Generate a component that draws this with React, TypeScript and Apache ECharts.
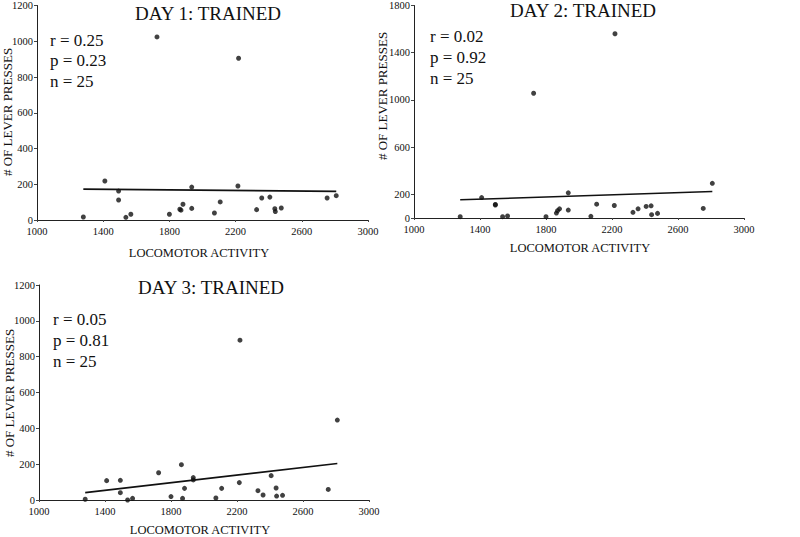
import React, { useEffect, useRef } from "react";
import * as echarts from "echarts";

const activity = [1280, 1410, 1493, 1493, 1537, 1567, 1725, 1800, 1863, 1870, 1882, 1935, 1935, 2072, 2107, 2214, 2218, 2327, 2358, 2407, 2437, 2440, 2476, 2753, 2808];
const day1Presses = [17, 218, 162, 112, 15, 32, 1024, 32, 60, 55, 88, 184, 65, 39, 101, 190, 905, 58, 123, 128, 63, 47, 67, 123, 136];
const day2Presses = [11, 173, 115, 110, 11, 17, 1057, 11, 42, 62, 78, 213, 67, 14, 117, 106, 1561, 48, 78, 98, 103, 28, 39, 81, 294];
const day3Presses = [4, 108, 110, 41, 0, 9, 152, 19, 197, 9, 65, 125, 112, 11, 65, 97, 892, 52, 28, 136, 67, 22, 26, 59, 446];

const fitX = [1280, 2808];
const day1Fit = [173, 160];
const day2Fit = [154, 224];
const day3Fit = [41, 204];

const titles = ["DAY 1: TRAINED", "DAY 2: TRAINED", "DAY 3: TRAINED"];
const stats = [
  ["r = 0.25", "p = 0.23", "n = 25"],
  ["r = 0.02", "p = 0.92", "n = 25"],
  ["r = 0.05", "p = 0.81", "n = 25"],
];
const xTicks = [1000, 1400, 1800, 2200, 2600, 3000];
const yTicks13 = [0, 200, 400, 600, 800, 1000, 1200];
const yTicks2 = [0, 200, 600, 1000, 1400, 1800];
const xName = "LOCOMOTOR ACTIVITY";
const yName = "# OF LEVER PRESSES";

const FONT = "'Liberation Serif', 'DejaVu Serif', serif";

export default function App() {
  const ref = useRef<HTMLDivElement>(null);
  useEffect(() => {
    if (!ref.current) return;
    const chart = echarts.init(ref.current, null, { renderer: "svg" });
    const grids = [
      { left: 37, top: 5, width: 331, height: 215 },
      { left: 414, top: 3, width: 330, height: 215 },
      { left: 39, top: 285, width: 330, height: 215 },
    ];
    const yMax = [1200, 1800, 1200];
    const yTickSets = [yTicks13, yTicks2, yTicks13];
    const pressSets = [day1Presses, day2Presses, day3Presses];
    const fits = [day1Fit, day2Fit, day3Fit];
    const axisLine = { show: true, lineStyle: { color: "#222", width: 1 } };
    const labelStyle = {
      fontFamily: FONT,
      fontSize: 10.5,
      color: "#111",
      formatter: (v: number) => String(v),
    };

    const xAxis = grids.map((_, i) => ({
      type: "value",
      gridIndex: i,
      min: 1000,
      max: 3000,
      interval: 400,
      axisLine,
      axisTick: { show: true, length: 2, lineStyle: { color: "#444" } },
      axisLabel: { ...labelStyle, margin: 6, customValues: xTicks },
      splitLine: { show: false },
    }));
    const yAxis = grids.map((_, i) => ({
      type: "value",
      gridIndex: i,
      min: 0,
      max: yMax[i],
      interval: 200,
      axisLine,
      axisTick: { show: true, length: 3, customValues: yTickSets[i], lineStyle: { color: "#444" } },
      axisLabel: { ...labelStyle, margin: 4, customValues: yTickSets[i] },
      splitLine: { show: false },
    }));
    const series: any[] = [];
    pressSets.forEach((p, i) => {
      series.push({
        type: "scatter",
        xAxisIndex: i,
        yAxisIndex: i,
        symbolSize: 5,
        itemStyle: { color: "#111" },
        data: activity.map((a, k) => [a, p[k]]),
      });
      series.push({
        type: "line",
        xAxisIndex: i,
        yAxisIndex: i,
        symbol: "none",
        lineStyle: { color: "#111", width: 1.6 },
        data: fitX.map((x, k) => [x, fits[i][k]]),
      });
    });

    const titlePos = [
      [208, 13],
      [583, 10],
      [211, 287],
    ];
    const statPos = [
      [50, 40, 20.5],
      [430, 36, 21],
      [53, 319, 21],
    ];
    const xNamePos = [
      [199, 253],
      [580, 248],
      [200, 530],
    ];
    const yNamePos = [
      [7, 112],
      [382, 96],
      [9, 393],
    ];
    const graphic: any[] = [];
    titles.forEach((t, i) => {
      graphic.push({
        type: "text",
        x: titlePos[i][0],
        y: titlePos[i][1],
        style: { text: t, fontFamily: FONT, fontSize: 19, fill: "#111", align: "center", verticalAlign: "middle" },
      });
      stats[i].forEach((s, k) => {
        graphic.push({
          type: "text",
          x: statPos[i][0],
          y: statPos[i][1] + k * statPos[i][2],
          style: { text: s, fontFamily: FONT, fontSize: 17, fill: "#111", align: "left", verticalAlign: "middle" },
        });
      });
      graphic.push({
        type: "text",
        x: xNamePos[i][0],
        y: xNamePos[i][1],
        style: { text: xName, fontFamily: FONT, fontSize: 12.5, fill: "#111", align: "center", verticalAlign: "middle" },
      });
      graphic.push({
        type: "text",
        x: yNamePos[i][0],
        y: yNamePos[i][1],
        rotation: Math.PI / 2,
        style: { text: yName, fontFamily: FONT, fontSize: 13, fill: "#111", align: "center", verticalAlign: "middle" },
      });
    });

    chart.setOption({
      animation: false,
      backgroundColor: "#fff",
      grid: grids,
      xAxis,
      yAxis,
      series,
      graphic,
    });
    return () => chart.dispose();
  }, []);
  return (
    <div
      ref={ref}
      style={{ width: 800, height: 537, position: "absolute", left: 0, top: 0 }}
    />
  );
}
